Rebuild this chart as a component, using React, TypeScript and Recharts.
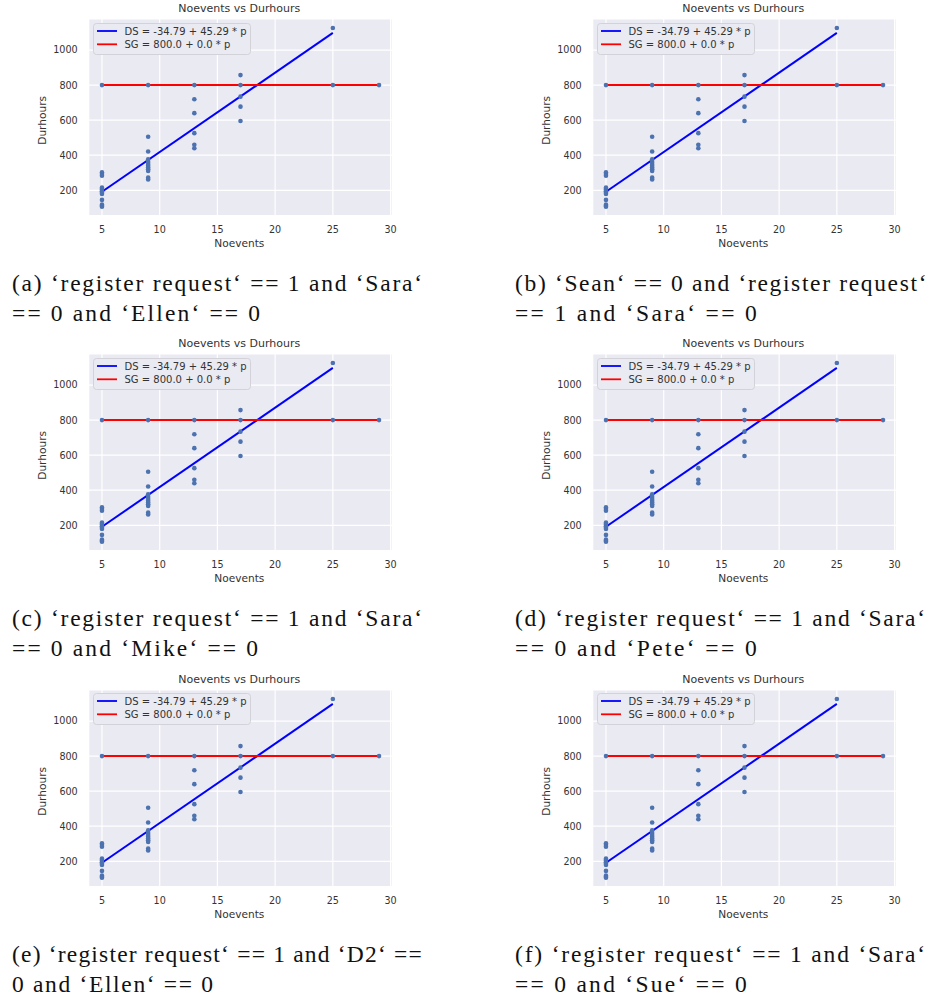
import React from 'react';
import { ScatterChart, Scatter, XAxis, YAxis, CartesianGrid, Legend } from 'recharts';

// ---- data ----
const noeventsValues = [5, 9, 13, 17, 25, 29];
const durhoursAt5 = [800, 302, 293, 283, 215, 208, 201, 194, 186, 179, 145, 118, 112, 106];
const durhoursAt9 = [800, 505, 421, 376, 362, 350, 340, 330, 320, 310, 272, 262];
const durhoursAt13 = [800, 719, 640, 526, 460, 440];
const durhoursAt17 = [857, 800, 734, 677, 595];
const durhoursAt25 = [1126, 800];
const durhoursAt29 = [800];
const durhoursGroups = [durhoursAt5, durhoursAt9, durhoursAt13, durhoursAt17, durhoursAt25, durhoursAt29];

const dsLineNoevents = [5, 25];
const dsLineDurhours = [191.7, 1097.5];
const sgLineNoevents = [5, 29];
const sgLineDurhours = [800, 800];

const seriesLabels = ['DS = -34.79 + 45.29 * p', 'SG = 800.0 + 0.0 * p'];
const xTicks = [5, 10, 15, 20, 25, 30];
const yTicks = [200, 400, 600, 800, 1000];
const chartTitle = 'Noevents vs Durhours';
const xLabel = 'Noevents';
const yLabel = 'Durhours';

const captionsA = ['(a) \u2018register request\u2018 == 1 and \u2018Sara\u2018', '== 0 and \u2018Ellen\u2018 == 0'];
const captionsB = ['(b) \u2018Sean\u2018 == 0 and \u2018register request\u2018', '== 1 and \u2018Sara\u2018 == 0'];
const captionsC = ['(c) \u2018register request\u2018 == 1 and \u2018Sara\u2018', '== 0 and \u2018Mike\u2018 == 0'];
const captionsD = ['(d) \u2018register request\u2018 == 1 and \u2018Sara\u2018', '== 0 and \u2018Pete\u2018 == 0'];
const captionsE = ['(e) \u2018register request\u2018 == 1 and \u2018D2\u2018 ==', '0 and \u2018Ellen\u2018 == 0'];
const captionsF = ['(f) \u2018register request\u2018 == 1 and \u2018Sara\u2018', '== 0 and \u2018Sue\u2018 == 0'];
const captions = [captionsA, captionsB, captionsC, captionsD, captionsE, captionsF];

// ---- derived tables ----
const points = noeventsValues.flatMap((x, i) => durhoursGroups[i].map((y) => ({ x, y })));
const dsData = dsLineNoevents.map((x, i) => ({ x, y: dsLineDurhours[i] }));
const sgData = sgLineNoevents.map((x, i) => ({ x, y: sgLineDurhours[i] }));

// ---- layout / style ----
const SANS = '"DejaVu Sans", sans-serif';
const SERIF = 'Liberation Serif';
const TEXT = '#333333';
const CHART_W = 460;
const CHART_H = 255;
const MARGIN = { top: 19, right: 67.7, bottom: 9.3, left: 28.7 };
const PLOT_L = 88.7;
const PLOT_W = 303.6;
const colX = [0, 504];
const rowY = [0, 335.3, 670.7];
const captionX = [12, 515];
const captionWidths = [
  [410, 248],
  [411.5, 241.7],
  [410, 246],
  [410, 241.7],
  [409.7, 201],
  [410, 231.7],
];

const dotShape = (props: any) => <circle cx={props.cx} cy={props.cy} r={2.3} fill="#4C72B0" />;
const noShape = () => <g />;

const renderYLabel = (props: any) => {
  const vb = props.viewBox || { x: 28.7, y: 19, width: 60, height: 196.7 };
  const cx = vb.x + 13.6;
  const cy = vb.y + vb.height / 2 + 3;
  return (
    <text
      x={cx}
      y={cy}
      dy="0.36em"
      textAnchor="middle"
      transform={`rotate(-90 ${cx} ${cy})`}
      fontFamily={SANS}
      fontSize={10.6}
      fill={TEXT}
    >
      {yLabel}
    </text>
  );
};

const renderXLabel = (props: any) => {
  const vb = props.viewBox || { x: 88.7, y: 215.7, width: 303.6, height: 30 };
  return (
    <text
      x={vb.x + vb.width / 2 - 1.2}
      y={vb.y + 27}
      dy="0.36em"
      textAnchor="middle"
      fontFamily={SANS}
      fontSize={10.6}
      fill={TEXT}
    >
      {xLabel}
    </text>
  );
};

const LegendBox = (props: any) => {
  const items = (props.payload || []).filter((p: any) => p.type !== 'none');
  return (
    <svg width={158} height={32} style={{ display: 'block', overflow: 'visible' }}>
      <rect x={0.5} y={0.5} width={157} height={31} rx={3} ry={3} fill="#EAEAF2" stroke="#d2d2d8" strokeWidth={1} />
      {items.map((it: any, i: number) => {
        const cy = 8 + i * 13.3;
        const color = it.color || (it.payload && it.payload.fill);
        return (
          <g key={i}>
            <line x1={4} x2={24} y1={cy} y2={cy} stroke={color} strokeWidth={1.8} />
            <text x={31.5} y={cy} dy="0.36em" fontFamily={SANS} fontSize={10} fill={TEXT}>
              {it.value}
            </text>
          </g>
        );
      })}
    </svg>
  );
};

function Panel({ left, top }: { left: number; top: number }) {
  return (
    <div style={{ position: 'absolute', left, top, width: CHART_W, height: CHART_H }}>
      <ScatterChart width={CHART_W} height={CHART_H} margin={MARGIN}>
        <CartesianGrid fill="#EAEAF2" stroke="#FFFFFF" strokeWidth={1.2} />
        <XAxis
          type="number"
          dataKey="x"
          domain={[3.85, 30.15]}
          ticks={xTicks}
          allowDataOverflow
          axisLine={false}
          tickLine={false}
          tickMargin={4}
          height={30}
          tick={{ fill: TEXT, fontSize: 9.6, fontFamily: SANS }}
          label={renderXLabel}
        />
        <YAxis
          type="number"
          dataKey="y"
          domain={[55, 1177]}
          ticks={yTicks}
          allowDataOverflow
          axisLine={false}
          tickLine={false}
          tickMargin={5}
          width={60}
          tick={{ fill: TEXT, fontSize: 9.6, fontFamily: SANS }}
          label={renderYLabel}
        />
        <Legend
          layout="vertical"
          align="center"
          verticalAlign="middle"
          wrapperStyle={{ left: 92.5, top: 22.5, width: 158, height: 32 }}
          content={LegendBox}
        />
        <Scatter
          name={seriesLabels[0]}
          data={dsData}
          fill="#0000FF"
          line={{ stroke: '#0000FF', strokeWidth: 2 }}
          lineType="joint"
          shape={noShape}
          legendType="line"
          isAnimationActive={false}
        />
        <Scatter
          name={seriesLabels[1]}
          data={sgData}
          fill="#FF0000"
          line={{ stroke: '#FF0000', strokeWidth: 2 }}
          lineType="joint"
          shape={noShape}
          legendType="line"
          isAnimationActive={false}
        />
        <Scatter name="points" data={points} fill="#4C72B0" shape={dotShape} legendType="none" isAnimationActive={false} />
      </ScatterChart>
      <svg
        width={CHART_W}
        height={20}
        style={{ position: 'absolute', left: 0, top: 0, pointerEvents: 'none' }}
      >
        <text x={PLOT_L + PLOT_W / 2 - 1.2} y={12.3} textAnchor="middle" fontFamily={SANS} fontSize={11} fill={TEXT}>
          {chartTitle}
        </text>
      </svg>
    </div>
  );
}

export default function App() {
  const panels = [] as React.ReactNode[];
  const texts = [] as React.ReactNode[];
  captions.forEach((cap, i) => {
    const col = i % 2;
    const row = Math.floor(i / 2);
    panels.push(<Panel key={`p${i}`} left={colX[col]} top={rowY[row]} />);
    const base = 291 + rowY[row];
    cap.forEach((line, j) => {
      texts.push(
        <text
          key={`c${i}-${j}`}
          x={captionX[col]}
          y={base + j * 30}
          textLength={captionWidths[i][j]}
          lengthAdjust="spacing"
          style={{ fontFamily: SERIF, fontSize: '23.5px' }}
          fill="#111"
        >
          {line}
        </text>
      );
    });
  });
  return (
    <div style={{ position: 'absolute', left: 0, top: 0, width: 927, height: 997, background: '#fff', overflow: 'hidden' }}>
      {panels}
      <svg width={927} height={997} style={{ position: 'absolute', left: 0, top: 0, pointerEvents: 'none' }}>
        {texts}
      </svg>
    </div>
  );
}
